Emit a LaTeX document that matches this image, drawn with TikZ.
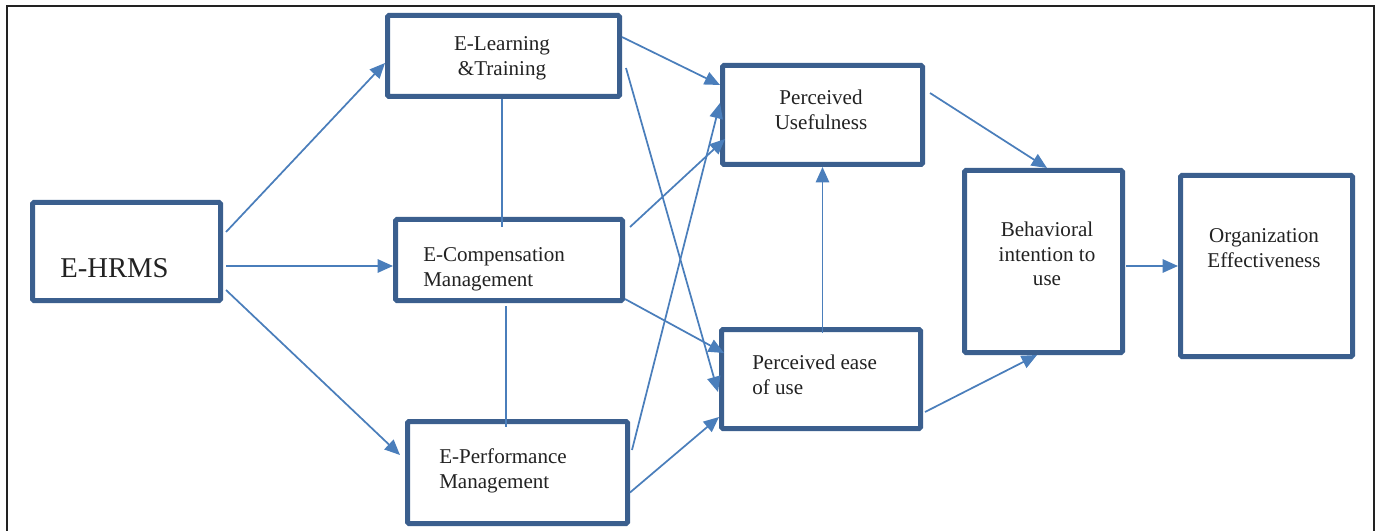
\documentclass[tikz,border=0pt]{standalone}
\usepackage{fontspec}
\setmainfont{Liberation Serif}
\usetikzlibrary{arrows.meta}
\definecolor{boxblue}{HTML}{3B5F8E}
\definecolor{linkblue}{HTML}{4A7EBB}
\definecolor{inkgray}{HTML}{222222}

\begin{document}
\begin{tikzpicture}[x=0.75pt, y=-0.75pt, >={Triangle[length=11.5pt, width=10pt]},
    box/.style={draw=boxblue, line width=3.75pt, rounded corners=1pt, inner sep=0pt},
    txt/.style={text=inkgray, font=\fontsize{15.8}{18.5}\selectfont, inner sep=0pt},
    link/.style={linkblue, line width=1.3pt}]
    \useasboundingbox (0, 0) rectangle (1375, 531);
    \draw[inkgray, line width=1.1pt] (7, 531) -- (7, 6) -- (1374, 6) -- (1374, 531);
    %% boxes
    \node[box, minimum width=141pt, minimum height=73.5pt] (ehrms) at (126.5, 251.5) {};
    \node[box, minimum width=174pt, minimum height=60.75pt] (learn) at (503.5, 56) {};
    \node[box, minimum width=170.25pt, minimum height=60.75pt] (comp) at (509, 260) {};
    \node[box, minimum width=165pt, minimum height=76.5pt] (perf) at (517.5, 472.5) {};
    \node[box, minimum width=150pt, minimum height=74.25pt] (useful) at (822.5, 115) {};
    \node[box, minimum width=149.25pt, minimum height=74.25pt] (ease) at (821, 379) {};
    \node[box, minimum width=118.5pt, minimum height=136.5pt] (intent) at (1043.5, 261.5) {};
    \node[box, minimum width=129pt, minimum height=135.75pt] (effect) at (1266.5, 266) {};
    %% texts
    \node[txt, anchor=west, font=\fontsize{21.5}{24}\selectfont] (ehrms-t) at (60, 268) {E-HRMS};
    \node[txt, align=center] (learn-t) at (502, 58) {E-Learning\\\&Training};
    \node[txt, anchor=west, align=left] (comp-t) at (423, 269) {E-Compensation\\Management};
    \node[txt, anchor=west, align=left] (perf-t) at (439, 471) {E-Performance\\Management};
    \node[txt, align=center] (useful-t) at (821, 110) {Perceived\\Usefulness};
    \node[txt, anchor=west, align=left] (ease-t) at (752, 375) {Perceived ease\\of use};
    \node[txt, align=center] (intent-t) at (1047, 254) {Behavioral\\intention to\\use};
    \node[txt, align=center] (effect-t) at (1264, 248) {Organization\\Effectiveness};
    %% links
    \draw[link, ->] ([shift={(3, -19.5)}]ehrms.east) -- ([shift={(0, 7)}]learn.west);
    \draw[link, ->] ([shift={(3, 14.5)}]ehrms.east) -- ([shift={(0, 6)}]comp.west);
    \draw[link, ->] ([shift={(3, 38.5)}]ehrms.east) -- ([shift={(-5, -17.5)}]perf.west);
    \draw[link, ->] ([shift={(0, -19)}]learn.east) -- ([shift={(0, -30)}]useful.west);
    \draw[link, ->] ([shift={(4, 12)}]learn.east) -- ([shift={(-1, 13)}]ease.west);
    \draw[link, ->] ([shift={(5, -33)}]comp.east) -- ([shift={(5, 24)}]useful.west);
    \draw[link, ->] ([shift={(0, 39)}]comp.east) -- ([shift={(5, -26)}]ease.west);
    \draw[link, ->] ([shift={(2, -22.5)}]perf.east) -- ([shift={(0, -12)}]useful.west);
    \draw[link, ->] ([shift={(0, 20)}]perf.east) -- ([shift={(0, 38)}]ease.west);
    \draw[link, ->] ([shift={(1.5, 6)}]ease.north) -- (useful.south);
    \draw[link, ->] ([shift={(5, -22)}]useful.east) -- ([shift={(3.5, 0)}]intent.north);
    \draw[link, ->] ([shift={(2, 33)}]ease.east) -- ([shift={(-6.5, 0)}]intent.south);
    \draw[link, ->] ([shift={(1, 4.5)}]intent.east) -- (effect.west);
    \draw[link] ([shift={(-1.5, 0)}]learn.south) -- ([shift={(-7, 10)}]comp.north);
    \draw[link] ([shift={(-3, 3)}]comp.south) -- ([shift={(-11.5, 8)}]perf.north);
\end{tikzpicture}
\end{document}
